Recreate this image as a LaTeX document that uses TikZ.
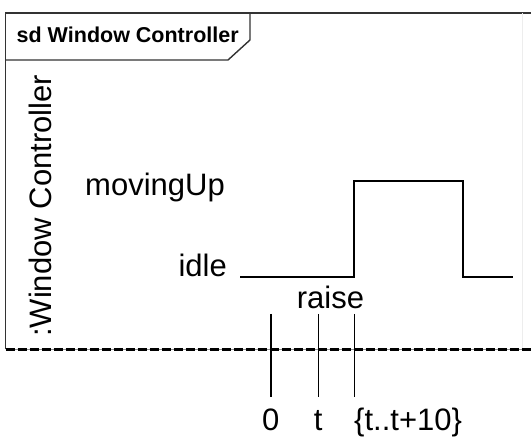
\documentclass[tikz,border=0pt]{standalone}
\usepackage{fontspec}
\setmainfont{Liberation Sans}
\begin{document}
\begin{tikzpicture}[x=1pt,y=-1pt,
  lbl/.style={inner sep=0pt, font=\fontsize{31}{31}\selectfont},
  wave/.style={line width=1.8pt, line join=miter},
  tick/.style={line width=1.6pt},
  frameline/.style={line width=1.4pt, black!80}]
\useasboundingbox (0,0) rectangle (531,438);
% frame
\coordinate (ftl) at (5.5,13);
\coordinate (fbl) at (5.5,349.5);
\coordinate (ftr) at (531,13);
\coordinate (fbr) at (531,349.5);
\draw[frameline] (fbl) -- (ftl) -- (ftr);
\draw[black!7, line width=0.8pt] (522,13) -- (522,349.5);
% tab
\coordinate (tabA) at (5.5,60);
\coordinate (tabB) at (228,60);
\coordinate (tabC) at (250,40);
\coordinate (tabD) at (250,13);
\draw[frameline] (tabA) -- (tabB) -- (tabC) -- (tabD);
\node[inner sep=0pt, anchor=base west, font=\fontsize{21.5}{21.5}\selectfont\bfseries] (title) at (16.5,42.7) {sd Window Controller};
% bottom line
\draw[black!45, line width=0.8pt] (fbl) -- (fbr);
\draw[line width=2.4pt, dash pattern=on 9pt off 3pt] (fbl) -- (fbr);
% lifeline name
\node[lbl, rotate=90, anchor=base west] (life) at (52,337) {:Window Controller};
% state labels
\node[lbl, anchor=base east] (moving) at (225,195.6) {movingUp};
\node[lbl, anchor=base east] (idle) at (227,277) {idle};
% waveform
\coordinate (w0) at (240,277);
\coordinate (w1) at (354.3,277);
\coordinate (w2) at (354.3,180.7);
\coordinate (w3) at (462.7,180.7);
\coordinate (w4) at (462.7,277);
\coordinate (w5) at (512.7,277);
\draw[wave] (w0) -- (w1) -- (w2) -- (w3) -- (w4) -- (w5);
% event
\node[lbl, anchor=base] (raise) at (330.5,309) {raise};
% time ticks
\coordinate (t0a) at (270.7,314);
\coordinate (t0b) at (270.7,397);
\coordinate (t1a) at (318.3,314);
\coordinate (t1b) at (318.3,397);
\coordinate (t2a) at (354.3,314);
\coordinate (t2b) at (354.3,397);
\draw[tick] (t0a) -- (t0b);
\draw[tick] (t1a) -- (t1b);
\draw[tick] (t2a) -- (t2b);
\node[lbl, anchor=base] (l0) at (270.7,431) {0};
\node[lbl, anchor=base] (l1) at (318.3,431) {t};
\node[lbl, anchor=base west] (l2) at (354,431) {\{t..t+10\}};
\end{tikzpicture}
\end{document}
